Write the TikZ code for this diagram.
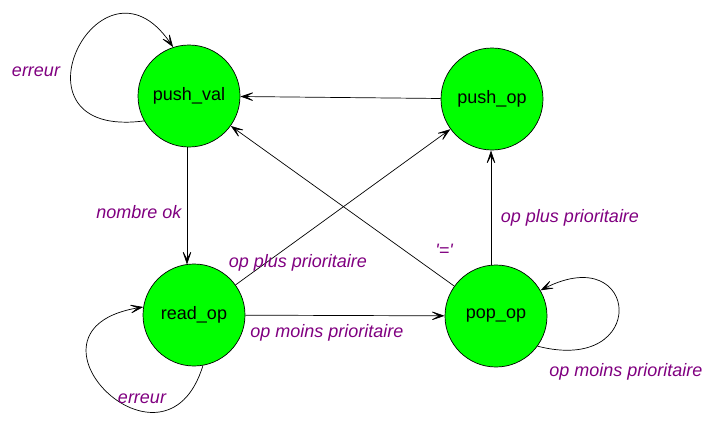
\documentclass[tikz,border=0pt]{standalone}
\usepackage{fontspec}
\setmainfont{Liberation Sans}
\usetikzlibrary{arrows.meta}
\definecolor{lblpurple}{RGB}{128,0,128}
\definecolor{stategreen}{RGB}{0,255,0}
\begin{document}
\begin{tikzpicture}[x=1pt,y=-1pt,
  state/.style={circle,draw=black,line width=0.7pt,fill=stategreen,minimum size=102pt,inner sep=0pt,font=\fontsize{18}{20}\selectfont},
  lbl/.style={text=lblpurple,font=\fontsize{18}{20}\selectfont\itshape,inner sep=0pt},
  conn/.style={draw=black,line width=0.7pt,-{Stealth[length=16pt,width=11pt,inset=10pt]}}]
\useasboundingbox (0,0) rectangle (706,423);
\node[state] (pv) at (189,96) {push\_val};
\node[state] (po) at (492,99) {push\_op};
\node[state] (ro) at (194,315) {read\_op};
\node[state] (pp) at (496,316) {pop\_op};
% straight transitions
\draw[conn] (pv.south -| 187,0) -- (187,264.5) coordinate (roTop);
\draw[conn] (po) -- (pv);
\draw[conn] (ro) -- (po);
\draw[conn] (pp) -- (pv);
\draw[conn] (ro) -- (pp);
\draw[conn] (491,265) coordinate (ppTop) -- (491,150.5);
% self loops
\draw[conn] (pv.209) .. controls (0,140) and (100,-60) .. (pv.108);
\draw[conn] (ro.280) .. controls (165,490) and (5,330) .. (ro.171);
\draw[conn] (pp.324) .. controls (650,375) and (640,240) .. (pp.30);
% labels
\node[lbl] (l1) at (36,72) {erreur};
\node[lbl] (l2) at (139,212) {nombre ok};
\node[lbl] (l3) at (298,263) {op plus prioritaire};
\node[lbl] (l4) at (327,333) {op moins prioritaire};
\node[lbl] (l5) at (142,399) {erreur};
\node[lbl] (l6) at (444,250) {\textquotesingle=\textquotesingle};
\node[lbl] (l7) at (570,218) {op plus prioritaire};
\node[lbl] (l8) at (626,372) {op moins prioritaire};
\end{tikzpicture}
\end{document}
